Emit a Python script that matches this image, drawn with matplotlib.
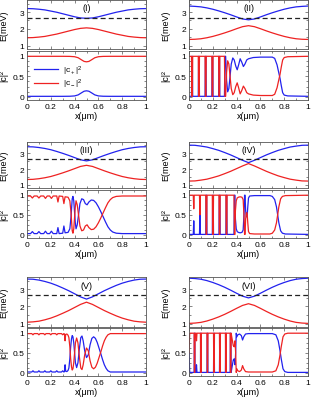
import matplotlib
matplotlib.use("Agg")
import matplotlib.pyplot as plt
from matplotlib.ticker import MultipleLocator

plt.rcParams['font.family'] = ['Liberation Sans', 'DejaVu Sans']
plt.rcParams['mathtext.fontset'] = 'custom'
plt.rcParams['mathtext.rm'] = 'Liberation Sans'
plt.rcParams['font.size'] = 6

BLUE = '#2222ee'
RED = '#ee2222'

panel_names = ['(I)', '(II)', '(III)', '(IV)', '(V)', '(VI)']
E_dash = 2.64

# energy bands, sampled every 0.05 um
x_E = [0, 0.05, 0.1, 0.15, 0.2, 0.25, 0.3, 0.35, 0.4, 0.45, 0.5,
       0.55, 0.6, 0.65, 0.7, 0.75, 0.8, 0.85, 0.9, 0.95, 1.0]

E_up_I = [3.21, 3.20, 3.17, 3.13, 3.06, 2.99, 2.90, 2.81, 2.72, 2.65, 2.63,
          2.65, 2.72, 2.81, 2.90, 2.99, 3.06, 3.13, 3.17, 3.20, 3.21]
E_lo_I = [1.47, 1.48, 1.51, 1.55, 1.62, 1.69, 1.78, 1.87, 1.96, 2.03, 2.06,
          2.03, 1.96, 1.87, 1.78, 1.69, 1.62, 1.55, 1.51, 1.48, 1.47]
E_up_II = [3.36, 3.34, 3.31, 3.25, 3.17, 3.07, 2.96, 2.84, 2.71, 2.59, 2.54,
           2.59, 2.71, 2.84, 2.96, 3.07, 3.17, 3.25, 3.31, 3.34, 3.36]
E_lo_II = [1.37, 1.38, 1.41, 1.47, 1.55, 1.65, 1.76, 1.88, 2.01, 2.13, 2.19,
           2.13, 2.01, 1.88, 1.76, 1.65, 1.55, 1.47, 1.41, 1.38, 1.37]
E_up_III = [3.42, 3.41, 3.37, 3.31, 3.23, 3.12, 3.00, 2.87, 2.73, 2.59, 2.52,
            2.59, 2.73, 2.87, 3.00, 3.12, 3.23, 3.31, 3.37, 3.41, 3.42]
E_lo_III = [1.34, 1.35, 1.39, 1.45, 1.53, 1.64, 1.76, 1.89, 2.03, 2.17, 2.24,
            2.17, 2.03, 1.89, 1.76, 1.64, 1.53, 1.45, 1.39, 1.35, 1.34]
E_up_IV = [3.52, 3.51, 3.46, 3.40, 3.30, 3.19, 3.05, 2.90, 2.73, 2.56, 2.41,
           2.56, 2.73, 2.90, 3.05, 3.19, 3.30, 3.40, 3.46, 3.51, 3.52]
E_lo_IV = [1.24, 1.25, 1.30, 1.36, 1.46, 1.57, 1.71, 1.86, 2.03, 2.20, 2.35,
           2.20, 2.03, 1.86, 1.71, 1.57, 1.46, 1.36, 1.30, 1.25, 1.24]
E_up_V = [3.60, 3.59, 3.54, 3.46, 3.36, 3.23, 3.08, 2.92, 2.74, 2.56, 2.43,
          2.56, 2.74, 2.92, 3.08, 3.23, 3.36, 3.46, 3.54, 3.59, 3.60]
E_lo_V = [1.08, 1.10, 1.14, 1.22, 1.32, 1.45, 1.60, 1.76, 1.94, 2.12, 2.25,
          2.12, 1.94, 1.76, 1.60, 1.45, 1.32, 1.22, 1.14, 1.10, 1.08]
E_up_VI = [3.65, 3.63, 3.59, 3.51, 3.40, 3.27, 3.12, 2.95, 2.77, 2.60, 2.50,
           2.60, 2.77, 2.95, 3.12, 3.27, 3.40, 3.51, 3.59, 3.63, 3.65]
E_lo_VI = [1.01, 1.03, 1.07, 1.15, 1.26, 1.39, 1.54, 1.71, 1.89, 2.06, 2.16,
           2.06, 1.89, 1.71, 1.54, 1.39, 1.26, 1.15, 1.07, 1.03, 1.01]

# weights |c+|^2 (blue) and |c-|^2 (red)
c_x_I = [0, 0.1, 0.2, 0.3, 0.36, 0.4, 0.43, 0.46, 0.48, 0.5, 0.52, 0.54, 0.57,
         0.6, 0.64, 0.7, 0.8, 0.9, 1.0]
cp_I = [0.01, 0.01, 0.01, 0.01, 0.012, 0.02, 0.045, 0.1, 0.135, 0.145, 0.135,
        0.1, 0.045, 0.02, 0.012, 0.01, 0.01, 0.01, 0.01]
cm_I = [0.99, 0.99, 0.99, 0.99, 0.988, 0.98, 0.955, 0.9, 0.865, 0.855, 0.865,
        0.9, 0.955, 0.98, 0.988, 0.99, 0.99, 0.99, 0.99]

c_x_II = [0.0, 0.021, 0.024, 0.028, 0.031, 0.078, 0.081, 0.085, 0.088,
          0.135, 0.138, 0.142, 0.145, 0.192, 0.195, 0.199, 0.202,
          0.249, 0.252, 0.256, 0.259, 0.298, 0.302, 0.308, 0.316, 0.325,
          0.335, 0.345, 0.355, 0.368, 0.38, 0.393, 0.405, 0.417, 0.43, 0.443,
          0.457, 0.47, 0.485, 0.5, 0.54, 0.6, 0.7, 0.72, 0.74, 0.755, 0.765,
          0.775, 0.787, 0.8, 0.83, 1.0]
cp_II = [0.01, 0.01, 0.99, 0.99, 0.01, 0.01, 0.99, 0.99, 0.01,
         0.01, 0.99, 0.99, 0.01, 0.01, 0.99, 0.99, 0.01,
         0.01, 0.99, 0.99, 0.01, 0.01, 0.99, 0.99, 0.4, 0.12,
         0.2, 0.5, 0.8, 0.95, 0.9, 0.75, 0.66, 0.78, 0.93, 0.85,
         0.74, 0.8, 0.9, 0.93, 0.96, 0.97, 0.97, 0.94, 0.78, 0.58, 0.45,
         0.28, 0.1, 0.04, 0.02, 0.01]
cm_II = [0.99, 0.99, 0.01, 0.01, 0.99, 0.99, 0.01, 0.01, 0.99,
         0.99, 0.01, 0.01, 0.99, 0.99, 0.01, 0.01, 0.99,
         0.99, 0.01, 0.01, 0.99, 0.99, 0.01, 0.01, 0.6, 0.88,
         0.8, 0.5, 0.2, 0.05, 0.1, 0.25, 0.34, 0.22, 0.07, 0.15,
         0.26, 0.2, 0.1, 0.07, 0.04, 0.03, 0.03, 0.06, 0.22, 0.42, 0.55,
         0.72, 0.9, 0.96, 0.98, 0.99]

c_x_III = [0, 0.03, 0.045, 0.06, 0.085, 0.1, 0.115, 0.14, 0.155, 0.17,
           0.19, 0.205, 0.22, 0.25, 0.26, 0.27, 0.3, 0.31, 0.32,
           0.345, 0.36, 0.37, 0.38, 0.386, 0.393, 0.4, 0.406, 0.412, 0.422,
           0.433, 0.445, 0.46, 0.475, 0.49, 0.505, 0.52, 0.54, 0.56, 0.58,
           0.6, 0.62, 0.64, 0.66, 0.68, 0.7, 0.72, 0.75, 0.8, 1.0]
cp_III = [0.03, 0.03, 0.08, 0.03, 0.03, 0.08, 0.03, 0.03, 0.09, 0.03,
          0.03, 0.09, 0.03, 0.03, 0.18, 0.03, 0.04, 0.22, 0.05,
          0.06, 0.15, 0.45, 0.9, 0.96, 0.85, 0.55, 0.3, 0.15, 0.25,
          0.5, 0.78, 0.9, 0.88, 0.78, 0.75, 0.82, 0.87, 0.86, 0.8,
          0.7, 0.58, 0.45, 0.32, 0.2, 0.12, 0.07, 0.04, 0.03, 0.03]
cm_III = [0.97, 0.97, 0.92, 0.97, 0.97, 0.92, 0.97, 0.97, 0.91, 0.97,
          0.97, 0.91, 0.97, 0.97, 0.82, 0.97, 0.96, 0.78, 0.95,
          0.94, 0.85, 0.55, 0.1, 0.04, 0.15, 0.45, 0.7, 0.85, 0.75,
          0.5, 0.22, 0.1, 0.12, 0.22, 0.25, 0.18, 0.13, 0.14, 0.2,
          0.3, 0.42, 0.55, 0.68, 0.8, 0.88, 0.93, 0.96, 0.97, 0.97]

c_x_IV = [0, 0.036, 0.04, 0.044, 0.088, 0.092, 0.096, 0.141, 0.144, 0.148,
          0.151, 0.196, 0.199, 0.203, 0.206, 0.252, 0.255, 0.259, 0.262,
          0.31, 0.313, 0.317, 0.32, 0.378, 0.382, 0.386, 0.39, 0.397, 0.405,
          0.415, 0.43, 0.445, 0.455, 0.462, 0.467, 0.471, 0.476, 0.482,
          0.488, 0.494, 0.5, 0.51, 0.55, 0.68, 0.7, 0.72, 0.735, 0.745,
          0.755, 0.77, 0.785, 0.81, 1.0]
cp_IV = [0.01, 0.01, 0.35, 0.01, 0.01, 0.5, 0.01, 0.01, 0.99, 0.99,
         0.01, 0.01, 0.99, 0.99, 0.01, 0.01, 0.99, 0.99, 0.01,
         0.01, 0.99, 0.99, 0.01, 0.01, 0.99, 0.99, 0.4, 0.15, 0.08,
         0.06, 0.05, 0.06, 0.12, 0.5, 0.99, 0.99, 0.6, 0.45,
         0.45, 0.7, 0.92, 0.97, 0.98, 0.98, 0.96, 0.88, 0.7, 0.5,
         0.3, 0.1, 0.04, 0.02, 0.01]
cm_IV = [0.99, 0.99, 0.65, 0.99, 0.99, 0.5, 0.99, 0.99, 0.01, 0.01,
         0.99, 0.99, 0.01, 0.01, 0.99, 0.99, 0.01, 0.01, 0.99,
         0.99, 0.01, 0.01, 0.99, 0.99, 0.01, 0.01, 0.6, 0.85, 0.92,
         0.94, 0.95, 0.94, 0.88, 0.5, 0.01, 0.01, 0.4, 0.55,
         0.55, 0.3, 0.08, 0.03, 0.02, 0.02, 0.04, 0.12, 0.3, 0.5,
         0.7, 0.9, 0.96, 0.98, 0.99]

c_x_V = [0, 0.04, 0.05, 0.06, 0.09, 0.1, 0.11, 0.14, 0.15, 0.16, 0.19, 0.2,
         0.21, 0.24, 0.25, 0.26, 0.29, 0.3, 0.31, 0.315, 0.32, 0.325,
         0.335, 0.345, 0.352, 0.36, 0.367, 0.374, 0.38, 0.386, 0.393, 0.4,
         0.407, 0.417, 0.428, 0.44, 0.452, 0.462, 0.472, 0.485, 0.5, 0.515,
         0.53, 0.545, 0.56, 0.575, 0.59, 0.605, 0.62, 0.635, 0.65, 0.665,
         0.68, 0.7, 1.0]
cp_V = [0.02, 0.02, 0.05, 0.02, 0.02, 0.05, 0.02, 0.02, 0.05, 0.02, 0.02, 0.05,
        0.02, 0.02, 0.05, 0.02, 0.02, 0.05, 0.02, 0.03, 0.2, 0.04,
        0.03, 0.06, 0.12, 0.35, 0.65, 0.85, 0.93, 0.9, 0.75, 0.5,
        0.25, 0.13, 0.25, 0.6, 0.88, 0.92, 0.8, 0.55, 0.38, 0.45,
        0.7, 0.86, 0.9, 0.86, 0.76, 0.62, 0.48, 0.33, 0.2, 0.11,
        0.05, 0.02, 0.02]
cm_V = [0.98, 0.98, 0.95, 0.98, 0.98, 0.95, 0.98, 0.98, 0.95, 0.98, 0.98, 0.95,
        0.98, 0.98, 0.95, 0.98, 0.98, 0.95, 0.98, 0.97, 0.8, 0.96,
        0.97, 0.94, 0.88, 0.65, 0.35, 0.15, 0.07, 0.1, 0.25, 0.5,
        0.75, 0.87, 0.75, 0.4, 0.12, 0.08, 0.2, 0.45, 0.62, 0.55,
        0.3, 0.14, 0.1, 0.14, 0.24, 0.38, 0.52, 0.67, 0.8, 0.89,
        0.95, 0.98, 0.98]

c_x_VI = [0, 0.006, 0.043, 0.0455, 0.0485, 0.051, 0.059, 0.063, 0.067,
          0.096, 0.0985, 0.1015, 0.104, 0.151, 0.1535, 0.1565, 0.159,
          0.206, 0.2085, 0.2115, 0.214, 0.256, 0.2585, 0.2615, 0.264,
          0.306, 0.3085, 0.3115, 0.314, 0.346, 0.3485, 0.3515, 0.354,
          0.362, 0.372, 0.38, 0.387, 0.392, 0.397, 0.402, 0.41, 0.425, 0.44,
          0.45, 0.46, 0.475, 0.5, 0.7, 0.73, 0.75, 0.765, 0.775, 0.79, 0.805,
          0.83, 1.0]
cp_VI = [0.5, 0.01, 0.01, 0.99, 0.99, 0.01, 0.01, 0.2, 0.01,
         0.01, 0.99, 0.99, 0.01, 0.01, 0.99, 0.99, 0.01,
         0.01, 0.99, 0.99, 0.01, 0.01, 0.99, 0.99, 0.01,
         0.01, 0.99, 0.99, 0.01, 0.01, 0.99, 0.99, 0.01,
         0.15, 0.32, 0.35, 0.2, 0.5, 0.99, 0.9, 0.95, 0.97, 0.93,
         0.82, 0.9, 0.97, 0.98, 0.98, 0.95, 0.8, 0.55, 0.35, 0.1, 0.03,
         0.01, 0.01]
cm_VI = [0.5, 0.99, 0.99, 0.01, 0.01, 0.99, 0.99, 0.8, 0.99,
         0.99, 0.01, 0.01, 0.99, 0.99, 0.01, 0.01, 0.99,
         0.99, 0.01, 0.01, 0.99, 0.99, 0.01, 0.01, 0.99,
         0.99, 0.01, 0.01, 0.99, 0.99, 0.01, 0.01, 0.99,
         0.85, 0.68, 0.65, 0.8, 0.5, 0.01, 0.1, 0.05, 0.03, 0.07,
         0.18, 0.1, 0.03, 0.02, 0.02, 0.05, 0.2, 0.45, 0.65, 0.9, 0.97,
         0.99, 0.99]

E_up = [E_up_I, E_up_II, E_up_III, E_up_IV, E_up_V, E_up_VI]
E_lo = [E_lo_I, E_lo_II, E_lo_III, E_lo_IV, E_lo_V, E_lo_VI]
c_x = [c_x_I, c_x_II, c_x_III, c_x_IV, c_x_V, c_x_VI]
cp = [cp_I, cp_II, cp_III, cp_IV, cp_V, cp_VI]
cm = [cm_I, cm_II, cm_III, cm_IV, cm_V, cm_VI]

W, H = 311, 402
fig = plt.figure(figsize=(W / 100, H / 100), dpi=100)

# pixel layout: column left edges, row (top, bottom) edges
col_left = [27, 189]
col_width = 119
rows = [((1, 50), (52, 101)), ((143, 189), (191, 239)), ((278, 328), (329, 377))]


def box(x0, y0, y1):
    return [x0 / W, 1 - y1 / H, col_width / W, (y1 - y0) / H]


def style(ax):
    ax.tick_params(which='both', direction='in', top=True, right=True,
                   width=0.5, color='#555555', pad=2)
    ax.tick_params(which='major', length=2.5)
    ax.tick_params(which='minor', length=1.3)
    for s in ax.spines.values():
        s.set_linewidth(0.6)
        s.set_color('#555555')
    ax.set_xlim(0, 1)
    ax.xaxis.set_major_locator(MultipleLocator(0.2))
    ax.xaxis.set_minor_locator(MultipleLocator(0.1))


for i in range(6):
    r, c = divmod(i, 2)
    (t0, t1), (b0, b1) = rows[r]
    ax1 = fig.add_axes(box(col_left[c], t0, t1))
    ax2 = fig.add_axes(box(col_left[c], b0, b1))

    # energies
    ax1.plot(x_E, E_up[i], color=BLUE, lw=0.9)
    ax1.plot(x_E, E_lo[i], color=RED, lw=0.9)
    ax1.axhline(E_dash, color='#222222', lw=0.9, ls=(0, (4, 2.5)))
    ax1.text(0.5, 3.25, panel_names[i], ha='center', va='center', fontsize=6.5)
    style(ax1)
    ax1.set_ylim(0.8, 3.72)
    ax1.set_yticks([1, 2, 3])
    ax1.set_yticklabels(['1', '2', '3'])
    ax1.yaxis.set_minor_locator(MultipleLocator(0.5))
    ax1.set_xticklabels([])
    ax1.set_ylabel('E(meV)', fontsize=6.5)
    ax1.yaxis.set_label_coords(-0.16, 0.5)

    # weights
    ax2.plot(c_x[i], cp[i], color=BLUE, lw=0.9, label=r'$\mathrm{|c_+|^2}$')
    ax2.plot(c_x[i], cm[i], color=RED, lw=0.9, label=r'$\mathrm{|c_-|^2}$')
    style(ax2)
    ax2.set_ylim(-0.08, 1.12)
    ax2.set_yticks([0, 0.5, 1])
    ax2.set_yticklabels(['0', '0.5', '1'])
    ax2.yaxis.set_minor_locator(MultipleLocator(0.125))
    ax2.set_xticks([0, 0.2, 0.4, 0.6, 0.8, 1.0])
    ax2.set_xticklabels(['0', '0.2', '0.4', '0.6', '0.8', '1'])
    ax2.set_xlabel('x(μm)', labelpad=1, fontsize=6.5)
    ax2.set_ylabel('|c|²', fontsize=6.5)
    ax2.yaxis.set_label_coords(-0.16, 0.5)
    if i == 0:
        ax2.legend(loc='center left', bbox_to_anchor=(0.06, 0.47), frameon=False,
                   handlelength=2.9, handletextpad=0.6, labelspacing=0.05,
                   borderpad=0, borderaxespad=0)

fig.savefig('out.png', dpi=100)
